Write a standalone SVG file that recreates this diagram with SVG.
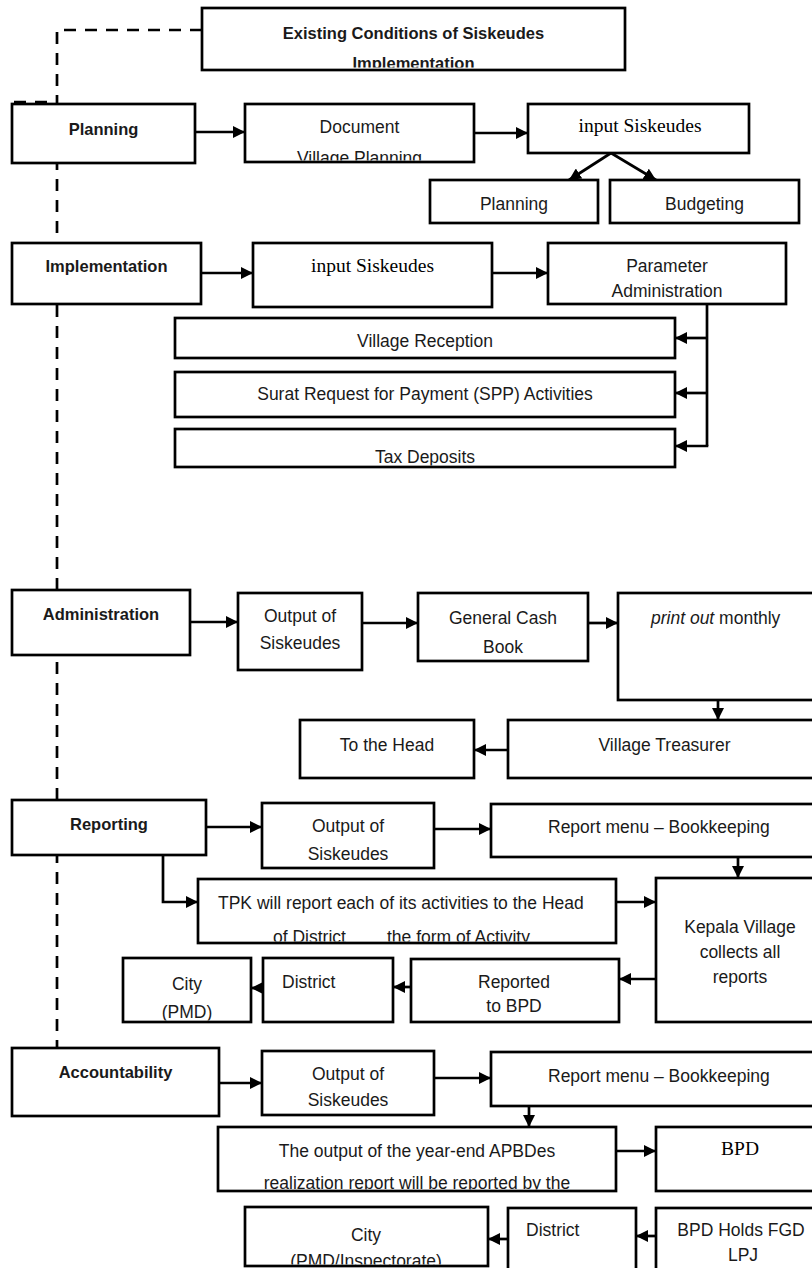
<svg xmlns="http://www.w3.org/2000/svg" width="812" height="1268" viewBox="0 0 812 1268">
<style>
.box{fill:#fff;stroke:#000;stroke-width:2.7}
.t{font-family:"Liberation Sans",Arial,sans-serif;font-size:17.5px;fill:#1a1a1a}
.b{font-weight:bold;font-size:16.5px}
.s{font-family:"Liberation Serif","Times New Roman",serif;font-size:19.5px}
.c{text-anchor:middle}
.conn{stroke:#000;stroke-width:2.7;fill:none}
.dash{stroke:#000;stroke-width:2.7;stroke-dasharray:12 9;fill:none}
</style>
<defs>
<marker id="ah" markerUnits="userSpaceOnUse" markerWidth="12" markerHeight="12" refX="12" refY="6" orient="auto">
<path d="M0,0 L12,6 L0,12 z" fill="#000"/>
</marker>
<clipPath id="cpExist"><rect x="203" y="9" width="421" height="58.5"/></clipPath>
<clipPath id="cpDoc"><rect x="246" y="105" width="227" height="55.5"/></clipPath>
<clipPath id="cpTax"><rect x="176" y="430" width="498" height="35.5"/></clipPath>
<clipPath id="cpTpk"><rect x="199" y="880" width="416" height="61.5"/></clipPath>
<clipPath id="cpCity1"><rect x="124" y="959" width="126" height="61.5"/></clipPath>
<clipPath id="cpApb"><rect x="219" y="1128" width="396" height="61.5"/></clipPath>
<clipPath id="cpCity2"><rect x="246" y="1208" width="241" height="56.5"/></clipPath>
</defs>
<rect width="812" height="1268" fill="#fff"/>
<g id="connectors">
<path class="dash" d="M202,30 H57 V1048"/>
<path class="dash" d="M14,102 H57"/>
<path class="conn" d="M195,132 H245" marker-end="url(#ah)"/>
<path class="conn" d="M474,133 H528" marker-end="url(#ah)"/>
<path class="conn" d="M611,153 L569,180" marker-end="url(#ah)"/>
<path class="conn" d="M611,153 L656,180" marker-end="url(#ah)"/>
<path class="conn" d="M201,273 H253" marker-end="url(#ah)"/>
<path class="conn" d="M492,273 H548" marker-end="url(#ah)"/>
<path class="conn" d="M707,304 V446"/>
<path class="conn" d="M707,338 H675" marker-end="url(#ah)"/>
<path class="conn" d="M707,393 H675" marker-end="url(#ah)"/>
<path class="conn" d="M708.3,446 H675" marker-end="url(#ah)"/>
<path class="conn" d="M190,622 H238" marker-end="url(#ah)"/>
<path class="conn" d="M362,623 H418" marker-end="url(#ah)"/>
<path class="conn" d="M588,623 H618" marker-end="url(#ah)"/>
<path class="conn" d="M718,700 V720" marker-end="url(#ah)"/>
<path class="conn" d="M508,750 H474" marker-end="url(#ah)"/>
<path class="conn" d="M206,827 H262" marker-end="url(#ah)"/>
<path class="conn" d="M434,829 H491" marker-end="url(#ah)"/>
<path class="conn" d="M738,857 V878" marker-end="url(#ah)"/>
<path class="conn" d="M163,855 V902 H198" marker-end="url(#ah)"/>
<path class="conn" d="M616,902 H656" marker-end="url(#ah)"/>
<path class="conn" d="M656,979 H619" marker-end="url(#ah)"/>
<path class="conn" d="M411,987 H393" marker-end="url(#ah)"/>
<path class="conn" d="M263,988 H251" marker-end="url(#ah)"/>
<path class="conn" d="M219,1083 H262" marker-end="url(#ah)"/>
<path class="conn" d="M434,1078 H491" marker-end="url(#ah)"/>
<path class="conn" d="M529,1106 V1127" marker-end="url(#ah)"/>
<path class="conn" d="M616,1151 H656" marker-end="url(#ah)"/>
<path class="conn" d="M656,1236 H636" marker-end="url(#ah)"/>
<path class="conn" d="M508,1239 H488" marker-end="url(#ah)"/>
</g>
<g id="n_existing"><rect class="box" x="202" y="8" width="423" height="62"/>
<g clip-path="url(#cpExist)"><text class="t b c" x="413.5" y="39">Existing Conditions of Siskeudes</text><text class="t b c" x="413.5" y="69">Implementation</text></g></g>
<g id="n_planning"><rect class="box" x="12" y="104" width="183" height="59"/><text class="t b c" x="103.5" y="135">Planning</text></g>
<g id="n_document"><rect class="box" x="245" y="104" width="229" height="58"/>
<g clip-path="url(#cpDoc)"><text class="t c" x="359.5" y="133">Document</text><text class="t c" x="359.5" y="164">Village Planning</text></g></g>
<g id="n_input1"><rect class="box" x="528" y="104" width="221" height="49"/><text class="s c" x="640" y="132">input Siskeudes</text></g>
<g id="n_plan_sub"><rect class="box" x="430" y="180" width="168" height="43"/><text class="t c" x="514" y="210">Planning</text></g>
<g id="n_budget"><rect class="box" x="610" y="180" width="189" height="43"/><text class="t c" x="704.5" y="210">Budgeting</text></g>
<g id="n_impl"><rect class="box" x="12" y="243" width="189" height="61"/><text class="t b c" x="106.5" y="272">Implementation</text></g>
<g id="n_input2"><rect class="box" x="253" y="243" width="239" height="64"/><text class="s c" x="372.5" y="272">input Siskeudes</text></g>
<g id="n_param"><rect class="box" x="548" y="243" width="238" height="61"/><text class="t c" x="667" y="272">Parameter</text><text class="t c" x="667" y="297">Administration</text></g>
<g id="n_vrec"><rect class="box" x="175" y="318" width="500" height="40"/><text class="t c" x="425" y="347">Village Reception</text></g>
<g id="n_surat"><rect class="box" x="175" y="372" width="500" height="45"/><text class="t c" x="425" y="400">Surat Request for Payment (SPP) Activities</text></g>
<g id="n_tax"><rect class="box" x="175" y="429" width="500" height="38"/><text class="t c" x="425" y="463" clip-path="url(#cpTax)">Tax Deposits</text></g>
<g id="n_admin"><rect class="box" x="12" y="590" width="178" height="65"/><text class="t b c" x="101" y="620">Administration</text></g>
<g id="n_out1"><rect class="box" x="238" y="593" width="124" height="77"/><text class="t c" x="300" y="622">Output of</text><text class="t c" x="300" y="649">Siskeudes</text></g>
<g id="n_gcb"><rect class="box" x="418" y="593" width="170" height="68"/><text class="t c" x="503" y="624">General Cash</text><text class="t c" x="503" y="653">Book</text></g>
<g id="n_print"><rect class="box" x="618" y="593" width="210" height="107"/><text class="t" x="651" y="624"><tspan font-style="italic">print out</tspan> monthly</text></g>
<g id="n_vt"><rect class="box" x="508" y="720" width="320" height="58"/><text class="t c" x="664.5" y="751">Village Treasurer</text></g>
<g id="n_head"><rect class="box" x="300" y="720" width="174" height="58"/><text class="t c" x="387" y="751">To the Head</text></g>
<g id="n_rep"><rect class="box" x="12" y="800" width="194" height="55"/><text class="t b c" x="109" y="830">Reporting</text></g>
<g id="n_out2"><rect class="box" x="262" y="803" width="172" height="65"/><text class="t c" x="348" y="832">Output of</text><text class="t c" x="348" y="860">Siskeudes</text></g>
<g id="n_rm1"><rect class="box" x="491" y="804" width="340" height="53"/><text class="t" x="548" y="833">Report menu – Bookkeeping</text></g>
<g id="n_tpk"><rect class="box" x="198" y="879" width="418" height="64"/>
<g clip-path="url(#cpTpk)"><text class="t" x="218" y="909">TPK will report each of its activities to the Head</text><text class="t" y="943"><tspan x="273">of  District</tspan><tspan x="387">the form of Activity</tspan></text></g></g>
<g id="n_kepala"><rect class="box" x="656" y="878" width="170" height="144"/><text class="t c" x="740" y="933">Kepala Village</text><text class="t c" x="740" y="958">collects all</text><text class="t c" x="740" y="983">reports</text></g>
<g id="n_reported"><rect class="box" x="411" y="959" width="208" height="63"/><text class="t c" x="514" y="988">Reported</text><text class="t c" x="514" y="1012">to BPD</text></g>
<g id="n_district1"><rect class="box" x="263" y="958" width="130" height="64"/><text class="t" x="282" y="988">District</text></g>
<g id="n_city1"><rect class="box" x="123" y="958" width="128" height="64"/>
<g clip-path="url(#cpCity1)"><text class="t c" x="187" y="990">City</text><text class="t c" x="187" y="1018">(PMD)</text></g></g>
<g id="n_acc"><rect class="box" x="12" y="1048" width="207" height="68"/><text class="t b c" x="115.5" y="1078">Accountability</text></g>
<g id="n_out3"><rect class="box" x="262" y="1051" width="172" height="64"/><text class="t c" x="348" y="1080">Output of</text><text class="t c" x="348" y="1106">Siskeudes</text></g>
<g id="n_rm2"><rect class="box" x="491" y="1052" width="340" height="54"/><text class="t" x="548" y="1082">Report menu – Bookkeeping</text></g>
<g id="n_apb"><rect class="box" x="218" y="1127" width="398" height="64"/>
<g clip-path="url(#cpApb)"><text class="t c" x="417" y="1157">The output of the year-end APBDes</text><text class="t c" x="417" y="1189">realization report will be reported by the</text></g></g>
<g id="n_bpd"><rect class="box" x="656" y="1127" width="170" height="64"/><text class="s c" x="740" y="1155">BPD</text></g>
<g id="n_city2"><rect class="box" x="245" y="1207" width="243" height="59"/>
<g clip-path="url(#cpCity2)"><text class="t c" x="366" y="1241">City</text><text class="t c" x="366" y="1267">(PMD/Inspectorate)</text></g></g>
<g id="n_district2"><rect class="box" x="508" y="1208" width="128" height="80"/><text class="t" x="526" y="1236">District</text></g>
<g id="n_bpdfgd"><rect class="box" x="656" y="1208" width="170" height="80"/><text class="t c" x="741" y="1236">BPD Holds FGD</text><text class="t c" x="743" y="1261">LPJ</text></g>
</svg>
